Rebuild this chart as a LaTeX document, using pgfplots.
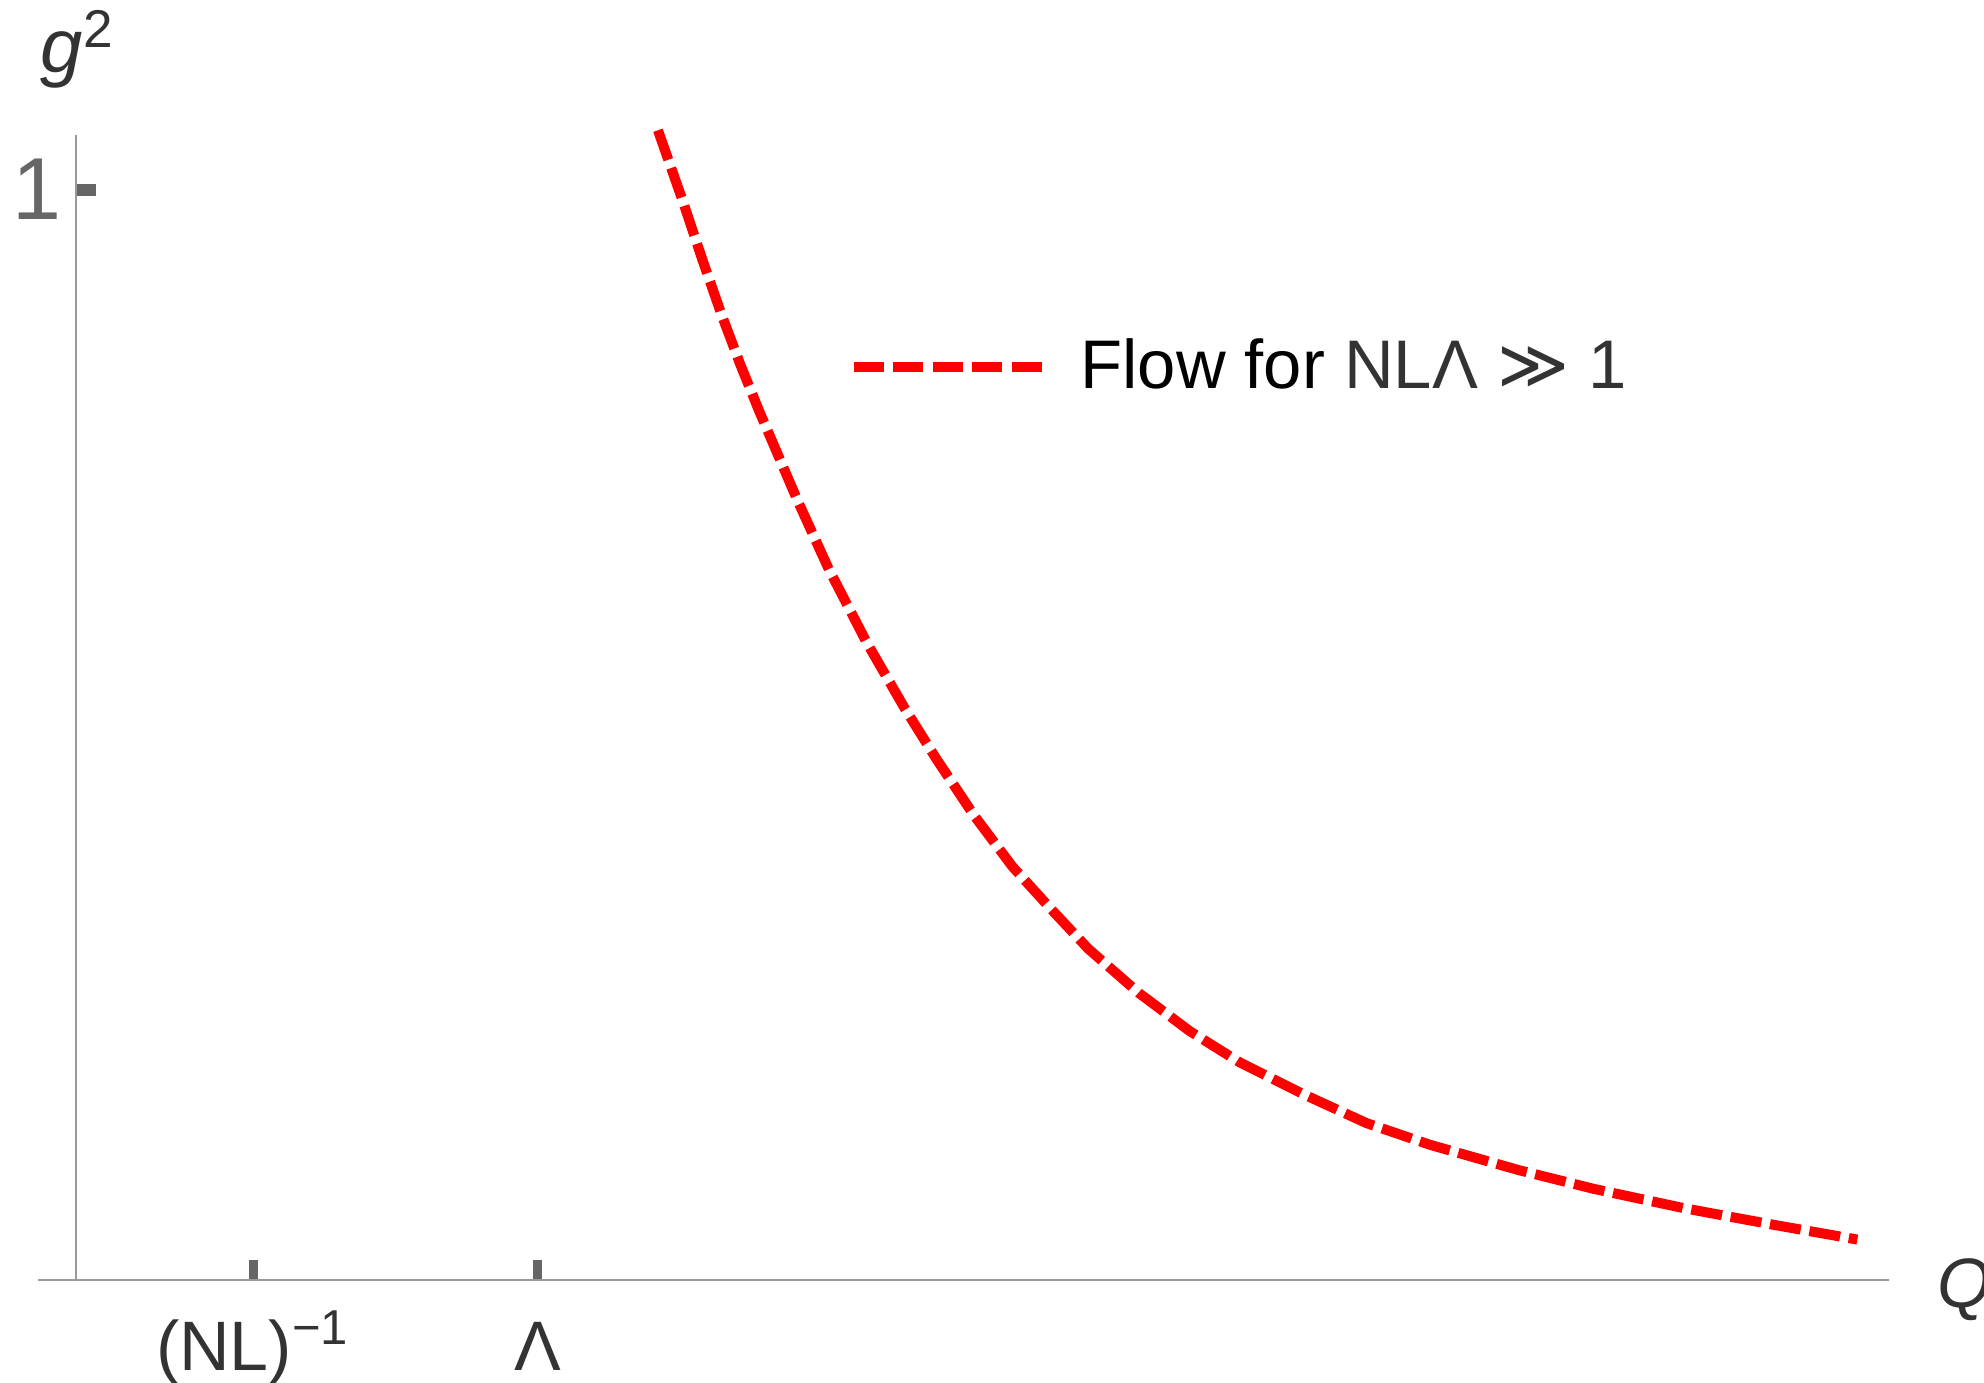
\documentclass[border=0pt]{standalone}
\usepackage{pgfplots}
\pgfplotsset{compat=1.18}
\usepackage{fontspec}
\setmainfont{Liberation Sans}
\newfontfamily\dejavu{DejaVu Sans}
\definecolor{txt}{HTML}{333333}
\definecolor{tk}{HTML}{666666}
\definecolor{axl}{HTML}{999999}
\begin{document}
\begin{tikzpicture}
\path[use as bounding box] (-9.5pt,-25.75pt) rectangle (486.5pt,320pt);
\begin{axis}[
    at={(0,0)}, anchor=south west,
    scale only axis,
    width=462.75pt, height=286.2pt,
    xmin=-0.3, xmax=14.33, ymin=0, ymax=1.05,
    axis lines=middle,
    axis line style={-, axl, line width=0.4pt},
    clip=false,
    xtick={1.4,3.65},
    xticklabels={(NL)\textsuperscript{\char"2212 1}, \char"039B},
    ytick={1},
    yticklabels={1},
    tick align=inside,
    major tick length=5pt,
    xtick style={tk, line width=2.25pt},
    ytick style={tk, line width=3pt},
    xticklabel style={anchor=base, yshift=-22.5pt, inner sep=0pt, text=txt,
      font=\fontsize{17.5}{21}\selectfont},
    yticklabel style={anchor=east, inner sep=0pt, xshift=-3.5pt, text=tk,
      font=\fontsize{22}{26}\selectfont},
    legend style={at={(axis cs:6.10,0.8376)}, anchor=west, draw=none, fill=none,
      inner sep=0pt, nodes={inner sep=0pt},
      font=\fontsize{17.2}{21}\selectfont,
      /tikz/every odd column/.style={column sep=8.5pt}},
    legend image code/.code={\draw[#1, dash pattern=on 7.5pt off 2.4pt] (0pt,0pt) -- (47pt,0pt);},
  ]
  % flow curve g^2(Q)
  \addplot[red, line width=2.5pt, dash pattern=on 7.8pt off 2.2pt] coordinates {
    (4.60,1.0545) (4.80,0.9884) (4.95,0.9362) (5.10,0.8863) (5.25,0.8399)
    (5.40,0.7970) (5.55,0.7564) (5.70,0.7158) (5.95,0.6520) (6.25,0.5847)
    (6.55,0.5244) (6.80,0.4780) (7.10,0.4258) (7.40,0.3794) (7.70,0.3411)
    (8.00,0.3039) (8.40,0.2633) (8.80,0.2285) (9.20,0.1995) (9.70,0.1705)
    (10.20,0.1439) (10.70,0.1241) (11.40,0.1009) (12.00,0.0835) (12.70,0.0661)
    (13.40,0.0510) (14.08,0.0371)
  };
  \addlegendentry{Flow for {\color{txt}NL\char"039B{} {\dejavu ≫} 1}}

  \node[anchor=base west, inner sep=0pt, text=txt, font=\fontsize{19}{23}\selectfont,
    xshift=-9pt, yshift=15.75pt] at (axis cs:0,1.05) {\textit{g}\textsuperscript{2}};
  \node[anchor=base west, inner sep=0pt, text=txt, font=\fontsize{17.5}{21}\selectfont,
    xshift=12pt, yshift=-6.75pt] at (axis cs:14.33,0) {\textit{Q}};
\end{axis}
\end{tikzpicture}
\end{document}
